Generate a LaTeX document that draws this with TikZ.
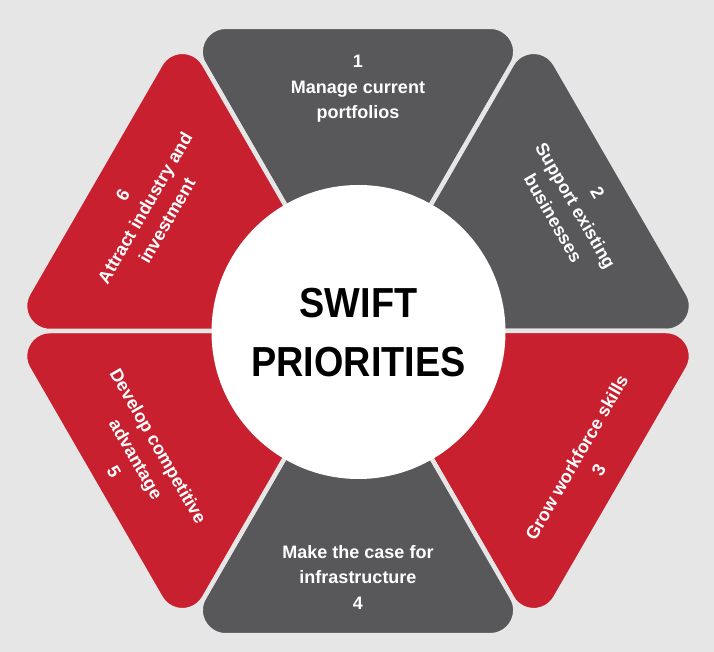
\documentclass[tikz,border=0pt]{standalone}
\usepackage{fontspec}
\usetikzlibrary{calc}
\setmainfont{Liberation Sans}
\newfontfamily\titlefont{Liberation Sans}[FakeStretch=0.9]
\definecolor{bg}{HTML}{E6E6E6}
\definecolor{dgray}{HTML}{58585A}
\definecolor{sred}{HTML}{C8202F}
\begin{document}
\begin{tikzpicture}[x=1pt,y=1pt,
  seg/.style={fill=#1, draw=bg, line width=4.5pt, line join=round},
  lbl/.style={text=white, font=\fontsize{18}{25.5}\selectfont\bfseries, align=center, inner sep=0pt},
  ttl/.style={text=black, font=\titlefont\fontsize{42}{59}\selectfont\bfseries, align=center, inner sep=0pt}
]
\fill[bg] (-358,-321) rectangle (356,331);
\useasboundingbox (-358,-321) rectangle (356,331);
\def\R{351.3}
\def\rr{25}
\def\t{43.3}
\def\Rt{308}
\foreach \a/\c in {60/dgray, 0/dgray, -60/sred, -120/dgray, 180/sred, 120/sred} {
  \pgfmathsetmacro\aa{\a+60}
  \pgfmathsetmacro\am{\a-60}
  \pgfmathsetmacro\sa{\a-90}
  \pgfmathsetmacro\ma{\a+30}
  \pgfmathsetmacro\ea{\a+150}
  \path[seg=\c] (0,0) -- (\a:\Rt) arc[start angle=\sa, end angle=\ma, radius=\rr]
     -- ($(\aa:\R)+(\am:\t)$) arc[start angle=\ma, end angle=\ea, radius=\rr] -- cycle;
}
\node[circle, fill=white, minimum size=294pt, inner sep=0pt] (hub) at (0.5,-1) {};
\node[ttl] (title) at (0.5,-1.5) {SWIFT\\PRIORITIES};
\node[lbl] (p1) at (90:242) {1\\Manage current\\portfolios};
\node[lbl, rotate=-60] (p2) at (30:251) {2\\Support existing\\businesses};
\node[lbl, rotate=60] (p3) at (-30:265) {Grow workforce skills\\3};
\node[lbl] (p4) at (-90:246) {Make the case for\\infrastructure\\4};
\node[lbl, rotate=-60] (p5) at (210:256) {Develop competitive\\advantage\\5};
\node[lbl, rotate=60] (p6) at (150:246) {6\\Attract industry and\\investment};
\end{tikzpicture}
\end{document}
